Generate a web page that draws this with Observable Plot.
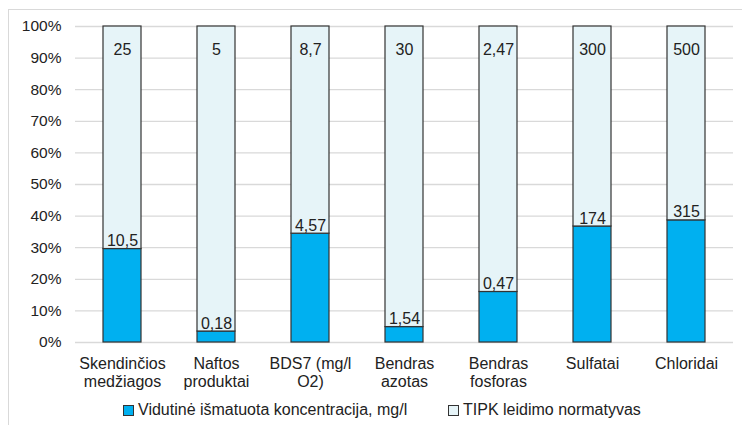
<!DOCTYPE html>
<html>
<head>
<meta charset="utf-8">
<script src="https://cdn.jsdelivr.net/npm/d3@7"></script>
<script src="https://cdn.jsdelivr.net/npm/@observablehq/plot@0.6"></script>
<style>
  html, body { margin: 0; padding: 0; background: #fff; }
  #wrap { position: relative; width: 742px; height: 425px; overflow: hidden; font-family: "Liberation Sans", Arial, sans-serif; }
  #frame { position: absolute; left: 8px; top: 9px; width: 740px; height: 420px; border: 1px solid #d9d9d9; box-sizing: border-box; }
  #chart { position: absolute; left: 0; top: 0; }
  #legend { position: absolute; left: 0; top: 401px; width: 742px; font-size: 16px; color: #222; }
  .item { position: absolute; top: 0; white-space: nowrap; display: flex; align-items: center; height: 18px; }
  .sw { width: 9px; height: 9px; border: 1px solid #333; margin-right: 4px; box-sizing: content-box; }
</style>
</head>
<body>
<div id="wrap">
  <div id="frame"></div>
  <div id="chart"></div>
  <div id="legend"></div>
</div>
<script>
const categories = ["Skendinčios\nmedžiagos", "Naftos\nproduktai", "BDS7 (mg/l\nO2)", "Bendras\nazotas", "Bendras\nfosforas", "Sulfatai", "Chloridai"];
const measured = [10.5, 0.18, 4.57, 1.54, 0.47, 174, 315];
const norms = [25, 5, 8.7, 30, 2.47, 300, 500];
const seriesNames = ["Vidutinė išmatuota koncentracija, mg/l", "TIPK leidimo normatyvas"];
const seriesColors = ["#00b0f0", "#e6f4f8"];
const yTicks = [0, 0.1, 0.2, 0.3, 0.4, 0.5, 0.6, 0.7, 0.8, 0.9, 1];

const fmt = v => String(v).replace(".", ",");

const rows = [];
categories.forEach((c, i) => {
  rows.push({cat: c, series: seriesNames[0], value: measured[i], share: measured[i] / (measured[i] + norms[i])});
  rows.push({cat: c, series: seriesNames[1], value: norms[i]});
});
const measRows = rows.filter(d => d.series === seriesNames[0]);
const normRows = rows.filter(d => d.series === seriesNames[1]);

const plot = Plot.plot({
  width: 742,
  height: 395,
  marginLeft: 75,
  marginRight: 9,
  marginTop: 26,
  marginBottom: 53,
  style: {fontFamily: "'Liberation Sans', Arial, sans-serif", fontSize: "16px", color: "#222", background: "transparent"},
  x: {domain: categories, paddingInner: 0.6, paddingOuter: 0.3, label: null},
  y: {domain: [0, 1], label: null},
  color: {domain: seriesNames, range: seriesColors},
  marks: [
    Plot.ruleY(yTicks, {stroke: "#d9d9d9", strokeWidth: 1.3}),
    Plot.barY(rows, {x: "cat", y: "value", fill: "series", offset: "normalize", stroke: "#333", strokeWidth: 1.2}),
    Plot.text(measRows, {x: "cat", y: "share", text: d => fmt(d.value), dy: -8, fill: "#222", fontSize: 16}),
    Plot.text(normRows, {x: "cat", text: d => fmt(d.value), frameAnchor: "top", dy: 17, fill: "#222", fontSize: 16}),
    Plot.axisY({ticks: yTicks, tickFormat: d3.format(".0%"), tickSize: 0, tickPadding: 14, label: null, fontSize: 15.5}),
    Plot.axisX({tickSize: 0, tickPadding: 13, label: null, lineHeight: 1.15, fontSize: 16})
  ]
});
document.getElementById("chart").appendChild(plot);

const legend = document.getElementById("legend");
const lefts = [123, 448];
seriesNames.forEach((name, i) => {
  const it = document.createElement("div");
  it.className = "item";
  it.style.left = lefts[i] + "px";
  const sw = document.createElement("span");
  sw.className = "sw";
  sw.style.background = seriesColors[i];
  const tx = document.createElement("span");
  tx.textContent = name;
  it.appendChild(sw);
  it.appendChild(tx);
  legend.appendChild(it);
});
</script>
</body>
</html>
